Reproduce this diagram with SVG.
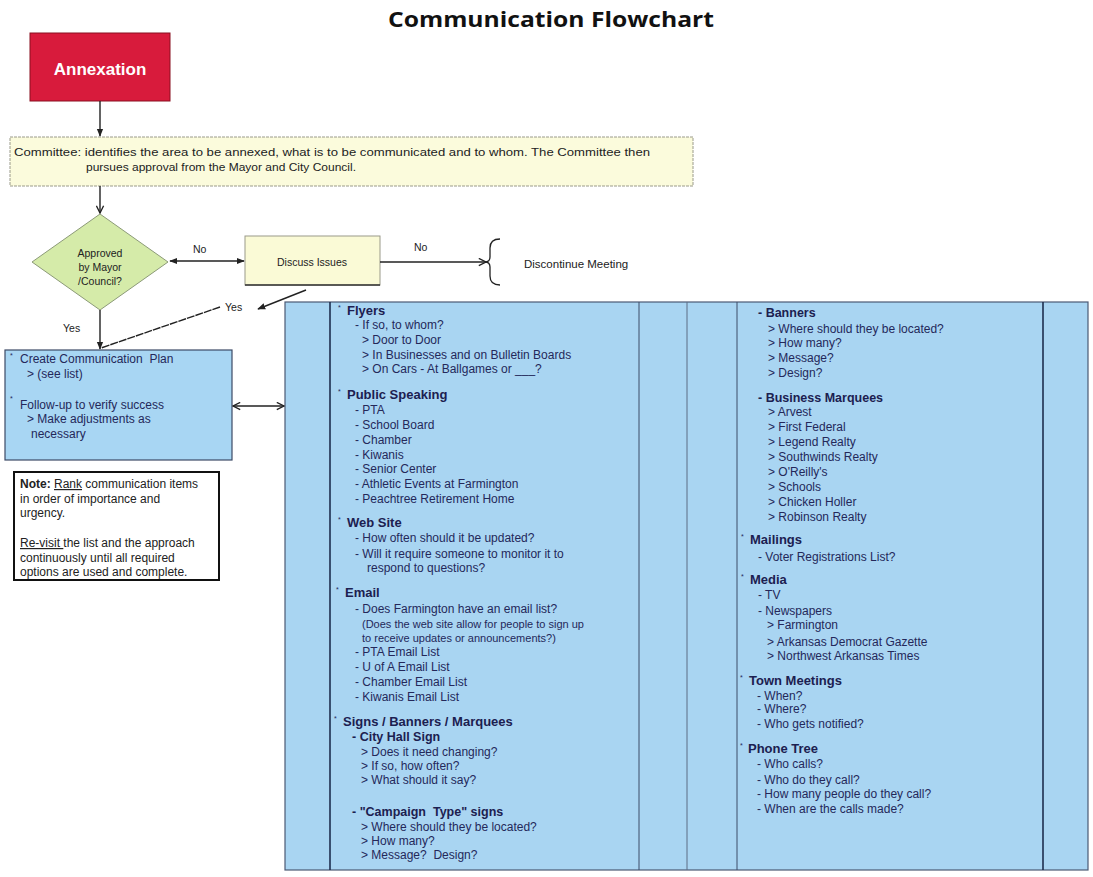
<svg xmlns="http://www.w3.org/2000/svg" width="1093" height="877" viewBox="0 0 1093 877">
<defs>
<style>
.t{font-family:"Liberation Sans",Arial,sans-serif;font-size:12px;fill:#24285a}
.sm{font-size:11px}
.h{font-family:"Liberation Sans",Arial,sans-serif;font-size:13px;font-weight:bold;fill:#1c2050}
.s{font-family:"Liberation Sans",Arial,sans-serif;font-size:12.5px;font-weight:bold;fill:#1c2050}
.k{font-family:"Liberation Sans",Arial,sans-serif;font-size:10.5px;fill:#222}
.n{font-family:"Liberation Sans",Arial,sans-serif;font-size:12px;fill:#222}
.b{font-family:"Liberation Sans",Arial,sans-serif;font-size:7px;fill:#24285a}
.ln{stroke:#222;stroke-width:1.4;fill:none}
</style>
<marker id="ah" viewBox="0 0 10 10" refX="9" refY="5" markerWidth="8" markerHeight="8" orient="auto-start-reverse" markerUnits="userSpaceOnUse">
<path d="M0,1 L10,5 L0,9 Z" fill="#222"/>
</marker>
<marker id="ao" viewBox="0 0 10 10" refX="9" refY="5" markerWidth="9" markerHeight="9" orient="auto-start-reverse" markerUnits="userSpaceOnUse">
<path d="M1,1 L9,5 L1,9" fill="none" stroke="#222" stroke-width="1.5"/>
</marker>
</defs>
<rect width="1093" height="877" fill="#fff"/>
<text x="551" y="27" text-anchor="middle" font-family="'Open Sans','Liberation Sans',sans-serif" font-size="22" font-weight="bold" fill="#111" textLength="326" lengthAdjust="spacingAndGlyphs">Communication Flowchart</text>

<g id="annexation">
<rect x="30" y="33" width="140" height="68" fill="#d81b3c" stroke="#8a1020" stroke-width="1"/>
<text x="100" y="75" text-anchor="middle" font-family="'Liberation Sans',Arial,sans-serif" font-size="17" font-weight="bold" fill="#fff">Annexation</text>
</g>

<g id="committee">
<rect x="10" y="137" width="683" height="49" fill="#fbfbdc" stroke="#9a9a8a" stroke-width="1" stroke-dasharray="3,1"/>
<text class="k" x="14" y="156" textLength="636" lengthAdjust="spacingAndGlyphs">Committee:  identifies the area to be annexed, what is to be communicated and to whom.  The Committee then</text>
<text class="k" x="86" y="171" textLength="270" lengthAdjust="spacingAndGlyphs">pursues approval from the Mayor and City Council.</text>
</g>

<g id="approved">
<polygon points="100,214 168,262 100,310 32,262" fill="#d5eba9" stroke="#8c9a78" stroke-width="1"/>
<text class="k" x="100" y="257" text-anchor="middle">Approved</text>
<text class="k" x="100" y="271" text-anchor="middle">by Mayor</text>
<text class="k" x="100" y="285" text-anchor="middle">/Council?</text>
</g>

<g id="discuss">
<rect x="245" y="236" width="135" height="49" fill="#fafad6" stroke="#9a9a8a" stroke-width="1"/>
<line x1="245" y1="285" x2="380" y2="285" stroke="#333" stroke-width="1.5"/>
<text class="k" x="312" y="266" text-anchor="middle">Discuss Issues</text>
</g>

<g id="discontinue">
<path d="M500,239 Q490,239 490,248 L490,257 Q490,262 485,262 Q490,262 490,267 L490,276 Q490,285 500,285" fill="none" stroke="#222" stroke-width="1.3"/>
<text x="524" y="268" font-family="'Liberation Sans',Arial,sans-serif" font-size="11.5" fill="#222">Discontinue Meeting</text>
</g>

<g id="plan">
<rect x="5" y="350" width="227" height="110" fill="#a8d6f3" stroke="#3c4a66" stroke-width="1.2"/>
<text class="b" x="10" y="358">*</text>
<text class="t" x="20" y="363" xml:space="preserve">Create Communication  Plan</text>
<text class="t" x="27" y="378">&gt; (see list)</text>
<text class="b" x="10" y="401">*</text>
<text class="t" x="20" y="409">Follow-up to verify success</text>
<text class="t" x="27" y="423">&gt; Make adjustments as</text>
<text class="t" x="31" y="438">necessary</text>
</g>

<g id="note">
<rect x="14" y="472" width="205" height="108" fill="#fff" stroke="#111" stroke-width="2"/>
<text class="n" x="20" y="488"><tspan font-weight="bold">Note: </tspan><tspan text-decoration="underline">Rank</tspan> communication items</text>
<text class="n" x="20" y="503">in order of importance and</text>
<text class="n" x="20" y="517">urgency.</text>
<text class="n" x="20" y="547"><tspan text-decoration="underline">Re-visit </tspan>the list and the approach</text>
<text class="n" x="20" y="562">continuously until all required</text>
<text class="n" x="20" y="576">options are used and complete.</text>
</g>

<g id="list">
<rect x="285" y="302" width="803" height="568" fill="#a9d5f2" stroke="#4c5a74" stroke-width="1.2"/>
<line x1="330" y1="302" x2="330" y2="870" stroke="#1e2e4e" stroke-width="1.6"/>
<line x1="639" y1="302" x2="639" y2="870" stroke="#3c4c68" stroke-width="1"/>
<line x1="687" y1="302" x2="687" y2="870" stroke="#5c6c84" stroke-width="1"/>
<line x1="737" y1="302" x2="737" y2="870" stroke="#3c4c68" stroke-width="1"/>
<line x1="1043" y1="302" x2="1043" y2="870" stroke="#1e2e4e" stroke-width="1.6"/>

<text class="b" x="338" y="310">*</text>
<text class="h" x="347" y="315">Flyers</text>
<text class="t" x="355" y="329">- If so, to whom?</text>
<text class="t" x="362" y="344">&gt; Door to Door</text>
<text class="t" x="362" y="359">&gt; In Businesses and on Bulletin Boards</text>
<text class="t" x="362" y="373">&gt; On Cars - At Ballgames or ___?</text>

<text class="b" x="338" y="394">*</text>
<text class="h" x="347" y="399">Public Speaking</text>
<text class="t" x="355" y="414">- PTA</text>
<text class="t" x="355" y="429">- School Board</text>
<text class="t" x="355" y="444">- Chamber</text>
<text class="t" x="355" y="459">- Kiwanis</text>
<text class="t" x="355" y="473">- Senior Center</text>
<text class="t" x="355" y="488">- Athletic Events at Farmington</text>
<text class="t" x="355" y="503">- Peachtree Retirement Home</text>

<text class="b" x="338" y="522">*</text>
<text class="h" x="347" y="527">Web Site</text>
<text class="t" x="355" y="542">- How often should it be updated?</text>
<text class="t" x="355" y="558">- Will it require someone to monitor it to</text>
<text class="t" x="367" y="572">respond to questions?</text>

<text class="b" x="336" y="592">*</text>
<text class="h" x="345" y="597">Email</text>
<text class="t" x="355" y="613">- Does Farmington have an email list?</text>
<text class="t sm" x="362" y="628">(Does the web site allow for people to sign up</text>
<text class="t sm" x="362" y="642">to receive updates or announcements?)</text>
<text class="t" x="355" y="656">- PTA Email List</text>
<text class="t" x="355" y="671">- U of A Email List</text>
<text class="t" x="355" y="686">- Chamber Email List</text>
<text class="t" x="355" y="701">- Kiwanis Email List</text>

<text class="b" x="334" y="721">*</text>
<text class="h" x="343" y="726">Signs / Banners / Marquees</text>
<text class="s" x="352" y="741">- City Hall Sign</text>
<text class="t" x="361" y="756">&gt; Does it need changing?</text>
<text class="t" x="361" y="770">&gt; If so, how often?</text>
<text class="t" x="361" y="784">&gt; What should it say?</text>
<text class="s" x="352" y="816" xml:space="preserve">- "Campaign  Type" signs</text>
<text class="t" x="361" y="831">&gt; Where should they be located?</text>
<text class="t" x="361" y="845">&gt; How many?</text>
<text class="t" x="361" y="859" xml:space="preserve">&gt; Message?  Design?</text>

<text class="s" x="758" y="317">- Banners</text>
<text class="t" x="768" y="333">&gt; Where should they be located?</text>
<text class="t" x="768" y="347">&gt; How many?</text>
<text class="t" x="768" y="362">&gt; Message?</text>
<text class="t" x="768" y="377">&gt; Design?</text>
<text class="s" x="758" y="402">- Business Marquees</text>
<text class="t" x="768" y="416">&gt; Arvest</text>
<text class="t" x="768" y="431">&gt; First Federal</text>
<text class="t" x="768" y="446">&gt; Legend Realty</text>
<text class="t" x="768" y="461">&gt; Southwinds Realty</text>
<text class="t" x="768" y="476">&gt; O'Reilly's</text>
<text class="t" x="768" y="491">&gt; Schools</text>
<text class="t" x="768" y="506">&gt; Chicken Holler</text>
<text class="t" x="768" y="521">&gt; Robinson Realty</text>

<text class="b" x="741" y="539">*</text>
<text class="h" x="750" y="544">Mailings</text>
<text class="t" x="758" y="561">- Voter Registrations List?</text>
<text class="b" x="741" y="579">*</text>
<text class="h" x="750" y="584">Media</text>
<text class="t" x="758" y="599">- TV</text>
<text class="t" x="758" y="615">- Newspapers</text>
<text class="t" x="767" y="629">&gt; Farmington</text>
<text class="t" x="767" y="646">&gt; Arkansas Democrat Gazette</text>
<text class="t" x="767" y="660">&gt; Northwest Arkansas Times</text>
<text class="b" x="740" y="680">*</text>
<text class="h" x="749" y="685">Town Meetings</text>
<text class="t" x="757" y="700">- When?</text>
<text class="t" x="757" y="713">- Where?</text>
<text class="t" x="757" y="728">- Who gets notified?</text>
<text class="b" x="740" y="748">*</text>
<text class="h" x="748" y="753">Phone Tree</text>
<text class="t" x="757" y="768">- Who calls?</text>
<text class="t" x="757" y="784">- Who do they call?</text>
<text class="t" x="757" y="798">- How many people do they call?</text>
<text class="t" x="757" y="813">- When are the calls made?</text>
</g>

<g id="connectors">
<line class="ln" x1="100" y1="101" x2="100" y2="136" marker-end="url(#ah)"/>
<line class="ln" x1="100" y1="186" x2="100" y2="213" marker-end="url(#ao)"/>
<line class="ln" x1="170" y1="261" x2="244" y2="261" marker-start="url(#ah)" marker-end="url(#ah)"/>
<line class="ln" x1="380" y1="262" x2="486" y2="262" marker-end="url(#ao)"/>
<line class="ln" x1="306" y1="290" x2="258" y2="309" marker-end="url(#ah)"/>
<line class="ln" x1="220" y1="307" x2="101" y2="348" stroke-dasharray="8,1"/>
<line class="ln" x1="100" y1="310" x2="100" y2="349" marker-end="url(#ah)"/>
<line class="ln" x1="233" y1="406" x2="284" y2="406" marker-start="url(#ao)" marker-end="url(#ao)"/>
<text class="k" x="193" y="253">No</text>
<text class="k" x="414" y="251">No</text>
<text class="k" x="225" y="311">Yes</text>
<text class="k" x="63" y="332">Yes</text>
</g>
</svg>
